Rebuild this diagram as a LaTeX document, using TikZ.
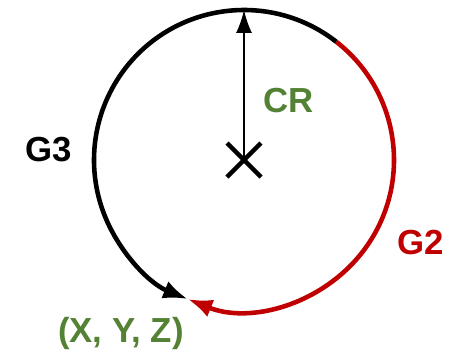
\documentclass[tikz,border=0pt]{standalone}
\usepackage{fontspec}
\setmainfont{Liberation Sans}
\usepackage{xcolor}
\usetikzlibrary{arrows.meta,positioning}
\definecolor{crgreen}{RGB}{84,130,53}
\definecolor{gred}{RGB}{192,0,0}

\begin{document}
\begin{tikzpicture}[lbl/.style={font=\bfseries\fontsize{19.8}{24}\selectfont,anchor=base,inner sep=0pt},
	arcline/.style={line width=2.6pt,-{Latex[length=14pt,width=10.5pt]}}]
			\useasboundingbox (-4.88,-3.8) rectangle (4.2,3.2);
			\coordinate (c) at (0,0);
			\coordinate (top) at (90:3);
			\coordinate (s) at (52:3);
			\coordinate (p) at (248:3);
			\draw[line width=0.8pt,-{Latex[length=13pt,width=9pt]}] (c) -- (top);
			\draw[line width=2.5pt] (-0.34,-0.34) -- (0.34,0.34);
			\draw[line width=2.5pt] (-0.34,0.34) -- (0.34,-0.34);
			\draw[arcline,black] (s) arc[start angle=52,end angle=248,radius=3];
			\draw[arcline,gred] (s) arc[start angle=52,end angle=-112,radius=3];
			\node[lbl,crgreen] (cr) at (0.9,0.96) {CR};
			\node[lbl,black] (g3) at (-3.91,-0.02) {G3};
			\node[lbl,gred] (g2) at (3.53,-1.89) {G2};
			\node[lbl,crgreen] (xyz) at (-2.46,-3.64) {(X, Y, Z)};
		\end{tikzpicture}
\end{document}
